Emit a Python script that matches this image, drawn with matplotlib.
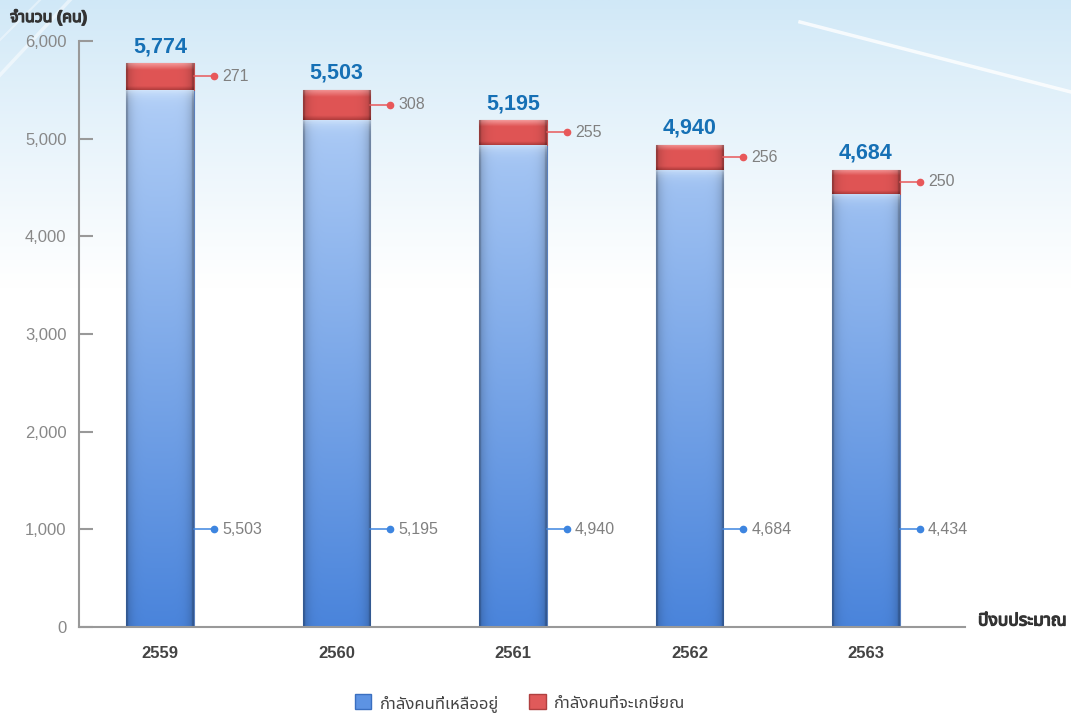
import numpy as np
import matplotlib
matplotlib.use("Agg")
import matplotlib.pyplot as plt
import matplotlib.patheffects as pe
from matplotlib.patches import Patch
from matplotlib.colors import to_rgb

# ---- data ----
years = ['2559', '2560', '2561', '2562', '2563']
remaining = [5503, 5195, 4940, 4684, 4434]      # กำลังคนที่เหลืออยู่
retiring = [271, 308, 255, 256, 250]            # กำลังคนที่จะเกษียณ
totals = [5774, 5503, 5195, 4940, 4684]
yticks = [0, 1000, 2000, 3000, 4000, 5000, 6000]
ylabel = 'จำนวน (คน)'
xlabel = 'ปีงบประมาณ'
legend_labels = ['กำลังคนที่เหลืออยู่', 'กำลังคนที่จะเกษียณ']

FAM = ['Liberation Sans', 'Noto Sans Thai', 'DejaVu Sans']
W, H = 1071, 717

fig = plt.figure(figsize=(W / 100, H / 100), dpi=100)

# ---- background gradient with streaks ----
bg = fig.add_axes([0, 0, 1, 1], zorder=-10)
bg.set_axis_off()
rows = np.linspace(0, 1, 400)[:, None]  # 0 = top
top = np.array(to_rgb('#d0e8f7'))
white = np.ones(3)
t = np.clip(rows / 0.40, 0, 1) ** 0.9
img = top[None, None, :] * (1 - t[..., None]) + white[None, None, :] * t[..., None]
img = np.repeat(img, 2, axis=1)
bg.imshow(img, extent=[0, 1, 0, 1], aspect='auto', origin='upper')
bg.plot([800 / W, 1.0], [1 - 22 / H, 1 - 92 / H], color='white', lw=2.5, alpha=0.8)
bg.plot([0, 70 / W], [1 - 75 / H, 1 - 0 / H], color='white', lw=2.5, alpha=0.5)
bg.plot([0, 40 / W], [1 - 40 / H, 1 - 0 / H], color='white', lw=1.5, alpha=0.4)
bg.set_xlim(0, 1)
bg.set_ylim(0, 1)

# ---- main axes ----
ax = fig.add_axes([79 / W, 1 - 627 / H, (965 - 79) / W, (627 - 41) / H])
ax.patch.set_alpha(0)

x = np.arange(len(years))
w = 0.385
b1 = ax.bar(x, remaining, w, color='#6f9ee8', edgecolor='#5a80bd', lw=0.8, zorder=2)
b2 = ax.bar(x, retiring, w, bottom=remaining, color='#e06060', edgecolor='#c05050', lw=0.8, zorder=2)


def hshade(n):
    u = np.linspace(0, 1, n)
    f = 1 - 0.22 * np.abs(2 * u - 1) ** 6
    f[:2] *= 0.85
    f[-2:] *= 0.85
    return f


blue_top = np.array(to_rgb('#b2cff7'))
blue_bot = np.array(to_rgb('#4a84db'))
for p in b1:
    x0, y0 = p.get_x(), p.get_y()
    pw, ph = p.get_width(), p.get_height()
    ny, nx = 300, 60
    v = np.linspace(1, 0, ny)[:, None]  # top -> bottom
    frac = (y0 + v * ph) / 5600.0
    col = blue_bot + (blue_top - blue_bot) * frac[..., None]
    col = col * hshade(nx)[None, :, None]
    band = np.linspace(0, 1, ny)[:, None] * ph
    hl = np.exp(-band / 60.0)[..., None] * 0.55
    col = col * (1 - hl) + hl * np.array([0.93, 0.97, 1.0])
    col = np.clip(col, 0, 1)
    im = ax.imshow(col, extent=[x0, x0 + pw, y0, y0 + ph], aspect='auto', origin='upper', zorder=2.5)
    im.set_clip_path(p)

red_top = np.array(to_rgb('#f49a9a'))
red_mid = np.array(to_rgb('#e05555'))
red_bot = np.array(to_rgb('#b03c3c'))
for p in b2:
    x0, y0 = p.get_x(), p.get_y()
    pw, ph = p.get_width(), p.get_height()
    ny, nx = 100, 60
    s = np.linspace(0, 1, ny)[:, None]  # 0 top -> 1 bottom
    col = np.where(s[..., None] < 0.25,
                   red_top + (red_mid - red_top) * (s[..., None] / 0.25),
                   np.where(s[..., None] < 0.85, red_mid[None, None, :] * np.ones((ny, 1, 1)),
                            red_mid + (red_bot - red_mid) * ((s[..., None] - 0.85) / 0.15)))
    col = col * np.ones((1, nx, 1))
    col = col * hshade(nx)[None, :, None]
    col = np.clip(col, 0, 1)
    im = ax.imshow(col, extent=[x0, x0 + pw, y0, y0 + ph], aspect='auto', origin='upper', zorder=2.5)
    im.set_clip_path(p)

# ---- annotations ----
dx = 20 / 176.5
tx = 28 / 176.5
for xi, r, q, tot in zip(x, remaining, retiring, totals):
    xr = xi + w / 2
    ym = r + q / 2
    ax.plot([xr, xr + dx], [ym, ym], color='#e8585a', lw=1.1, zorder=3)
    ax.plot([xr + dx], [ym], 'o', color='#e8585a', ms=4.5, zorder=3)
    ax.text(xr + tx, ym, f'{q:,}', color='#808080', fontsize=11.5, va='center', ha='left', family=FAM)
    ax.plot([xr, xr + dx], [1000, 1000], color='#3d85e0', lw=1.1, zorder=3)
    ax.plot([xr + dx], [1000], 'o', color='#3d85e0', ms=4.5, zorder=3)
    ax.text(xr + tx, 1000, f'{r:,}', color='#808080', fontsize=11.5, va='center', ha='left', family=FAM)
    ax.annotate(f'{tot:,}', (xi, tot), xytext=(0, 4), textcoords='offset points',
                ha='center', va='bottom', color='#1670b5', fontweight='bold', fontsize=15.5, family=FAM)

ax.set_xlim(-(160 - 79) / 176.5, 4 + (965 - 866) / 176.5)
ax.set_ylim(0, 6000)
ax.set_yticks(yticks)
ax.set_yticklabels([f'{v:,}' for v in yticks], family=FAM, color='#888888', fontsize=12)
ax.set_xticks(x)
ax.set_xticklabels(years, family=FAM, color='#444444', fontsize=12, fontweight='bold')
ax.tick_params(axis='y', direction='in', length=10, width=1.5, color='#999999', pad=9)
ax.tick_params(axis='x', length=0, pad=14)
for s in ['top', 'right']:
    ax.spines[s].set_visible(False)
for s in ['left', 'bottom']:
    ax.spines[s].set_color('#999999')
    ax.spines[s].set_linewidth(1.5)

bold_fx = [pe.withStroke(linewidth=0.9, foreground='#333333')]
fig.text(10 / W, 1 - 17 / H, ylabel, family=FAM, fontweight='bold', fontsize=11.5, color='#333333',
         ha='left', va='center', path_effects=bold_fx)
fig.text(978 / W, 1 - 621 / H, xlabel, family=FAM, fontweight='bold', fontsize=12.5, color='#333333',
         ha='left', va='center', path_effects=bold_fx)

handles = [Patch(facecolor='#5d93e3', edgecolor='#3a6fc0'), Patch(facecolor='#e05a5a', edgecolor='#b04040')]
fig.legend(handles, legend_labels, loc='center', bbox_to_anchor=(520 / W, 1 - 703 / H), ncol=2,
           frameon=False, prop={'family': FAM, 'size': 12}, labelcolor='#444444',
           handlelength=1.0, handleheight=1.0, handletextpad=0.5, columnspacing=1.8)

fig.savefig('out.png', dpi=100)
